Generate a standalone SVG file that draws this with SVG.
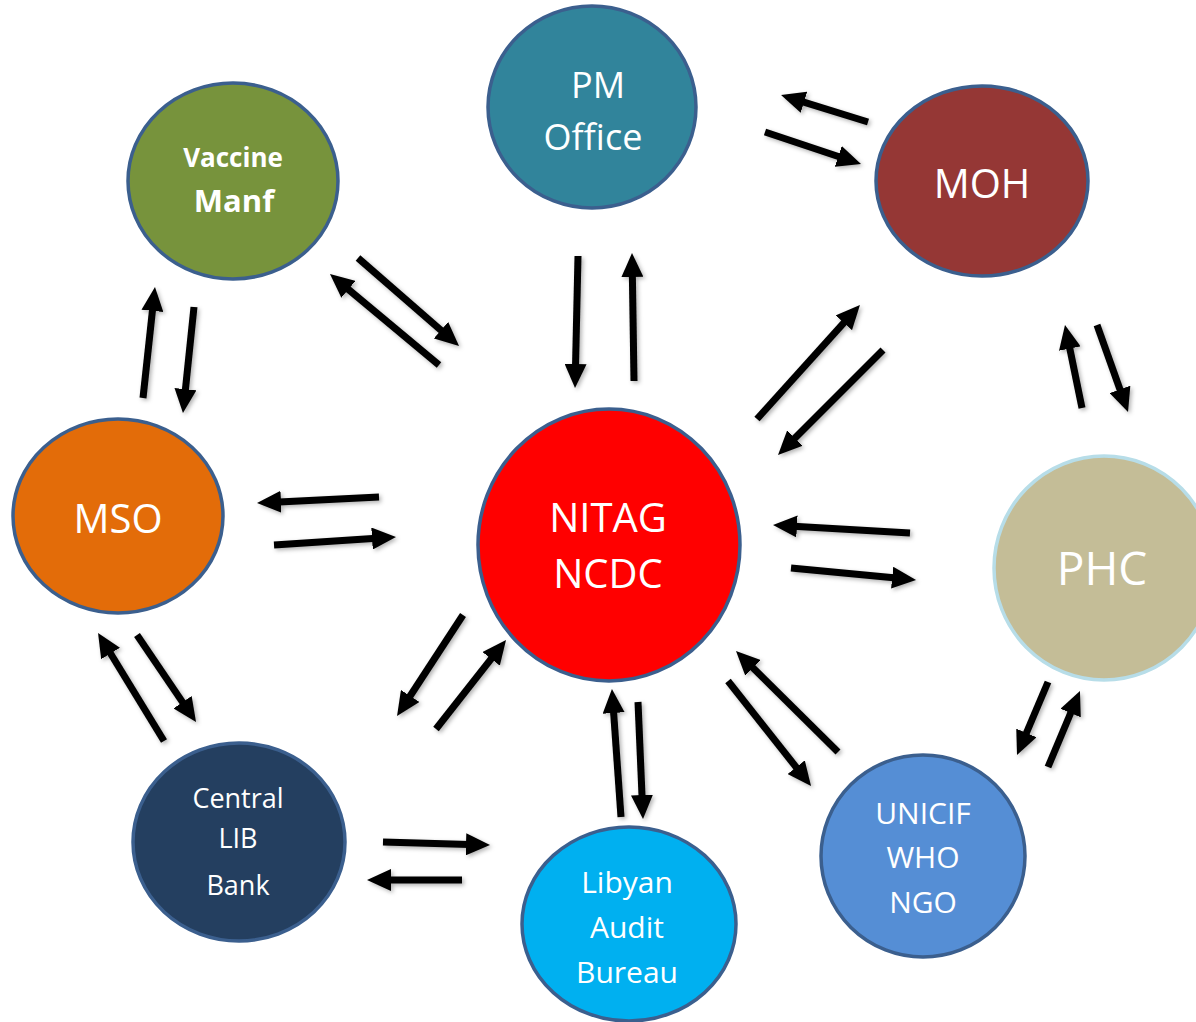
<svg xmlns="http://www.w3.org/2000/svg" width="1196" height="1022" viewBox="0 0 1196 1022">
<defs>
<marker id="ah" markerUnits="userSpaceOnUse" markerWidth="24" markerHeight="22" viewBox="0 0 24 22" refX="12" refY="11" orient="auto">
<path d="M0,0 L24,11 L0,22 z" fill="#000"/>
</marker>
<filter id="sh" x="-20%" y="-20%" width="140%" height="140%">
<feDropShadow dx="2" dy="2" stdDeviation="2" flood-color="#000" flood-opacity="0.3"/>
</filter>
</defs>
<style>
.node ellipse{stroke:#3b5f8e;stroke-width:3.5}
.node text{fill:#fff;font-family:"Open Sans","Liberation Sans",sans-serif;text-anchor:middle}
.conn line{stroke:#000;stroke-width:7;marker-end:url(#ah)}
</style>
<rect width="1196" height="1022" fill="#fff"/>
<g id="connectors" class="conn" filter="url(#sh)">
<line x1="868" y1="122" x2="792.5" y2="98.6"/>
<line x1="765" y1="132" x2="849.6" y2="160.2"/>
<line x1="578" y1="256" x2="575.3" y2="376"/>
<line x1="634" y1="381" x2="632.2" y2="265"/>
<line x1="358" y1="258" x2="450" y2="338.1"/>
<line x1="439" y1="365" x2="339.2" y2="281.7"/>
<line x1="143" y1="398" x2="153.7" y2="298.9"/>
<line x1="194" y1="307" x2="184.2" y2="401.1"/>
<line x1="379" y1="497" x2="269" y2="502.4"/>
<line x1="274" y1="545" x2="384" y2="537.8"/>
<line x1="757" y1="419" x2="851.9" y2="313.9"/>
<line x1="883" y1="350" x2="786.5" y2="446.5"/>
<line x1="1082" y1="408" x2="1067.4" y2="336.8"/>
<line x1="1097" y1="325" x2="1124" y2="400.7"/>
<line x1="910" y1="533" x2="785" y2="525.7"/>
<line x1="791" y1="568" x2="904.1" y2="578.8"/>
<line x1="164" y1="741" x2="104.3" y2="643.2"/>
<line x1="137" y1="635" x2="189.3" y2="712.1"/>
<line x1="463" y1="615" x2="403.6" y2="706"/>
<line x1="436" y1="729" x2="498.6" y2="649.4"/>
<line x1="383" y1="842" x2="478" y2="844.7"/>
<line x1="462" y1="880" x2="379" y2="880"/>
<line x1="621" y1="817" x2="612.8" y2="701"/>
<line x1="638" y1="702" x2="642.5" y2="807"/>
<line x1="838" y1="752" x2="744.5" y2="659.4"/>
<line x1="728" y1="681" x2="803.6" y2="776.6"/>
<line x1="1048" y1="682" x2="1021.7" y2="744"/>
<line x1="1048" y1="767" x2="1075.3" y2="702"/>
</g>
<g id="vaccine" class="node">
<ellipse cx="233" cy="181" rx="105" ry="98" fill="#77933c"/>
<text x="233" y="167" font-size="26" font-weight="bold">Vaccine</text>
<text x="234" y="212" font-size="31" font-weight="bold">Manf</text>
</g>
<g id="pm" class="node">
<ellipse cx="592" cy="107" rx="104" ry="101" fill="#31849b"/>
<text x="598" y="98" font-size="36">PM</text>
<text x="593" y="150" font-size="36">Office</text>
</g>
<g id="moh" class="node">
<ellipse cx="982" cy="181" rx="106" ry="95" fill="#953735"/>
<text x="982" y="198" font-size="40">MOH</text>
</g>
<g id="mso" class="node">
<ellipse cx="118" cy="516" rx="105" ry="97" fill="#e36c09"/>
<text x="118" y="533" font-size="40">MSO</text>
</g>
<g id="nitag" class="node">
<ellipse cx="609" cy="545" rx="131" ry="136" fill="#ff0000"/>
<text x="608" y="532" font-size="40">NITAG</text>
<text x="608" y="588" font-size="40">NCDC</text>
</g>
<g id="phc" class="node">
<ellipse cx="1104" cy="568" rx="110" ry="112" fill="#c4bd97" style="stroke:#b7dde8"/>
<text x="1102" y="585" font-size="46">PHC</text>
</g>
<g id="bank" class="node">
<ellipse cx="239" cy="842" rx="106" ry="99" fill="#243f60"/>
<text x="238" y="808" font-size="27">Central</text>
<text x="238" y="848" font-size="27">LIB</text>
<text x="238" y="895" font-size="27">Bank</text>
</g>
<g id="audit" class="node">
<ellipse cx="629" cy="924" rx="107" ry="97" fill="#00b0f0"/>
<text x="627" y="893" font-size="30">Libyan</text>
<text x="627" y="938" font-size="30">Audit</text>
<text x="627" y="983" font-size="30">Bureau</text>
</g>
<g id="unicef" class="node">
<ellipse cx="923" cy="856" rx="102" ry="101" fill="#558ed5"/>
<text x="923" y="824" font-size="30">UNICIF</text>
<text x="923" y="868" font-size="30">WHO</text>
<text x="923" y="913" font-size="30">NGO</text>
</g>
</svg>
